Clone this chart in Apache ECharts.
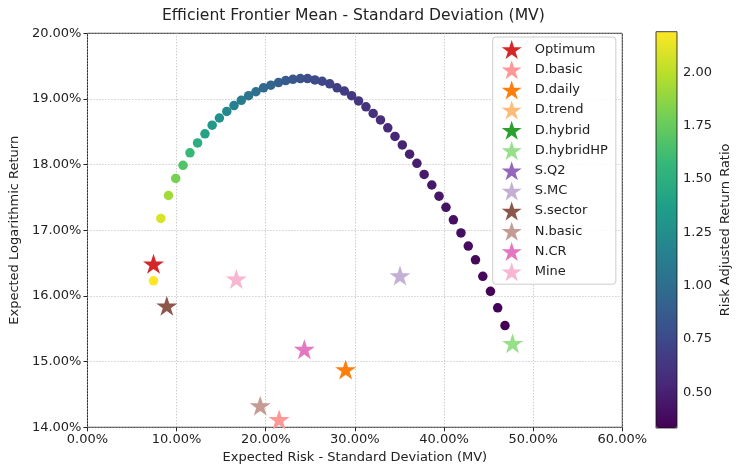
<!DOCTYPE html>
<html>
<head>
<meta charset="utf-8">
<script src="https://cdn.jsdelivr.net/npm/echarts@6/dist/echarts.min.js"></script>
<style>
html,body{margin:0;padding:0;background:#fff;}
#chart{width:743px;height:475px;}
</style>
</head>
<body>
<div id="chart"></div>
<script>
// Efficient frontier points (percent)
const frontierRisk = [7.41, 8.23, 9.09, 9.90, 10.72, 11.50, 12.35, 13.18, 13.99, 14.80,
  15.63, 16.44, 17.26, 18.08, 18.90, 19.75, 20.57, 21.43, 22.24, 23.05,
  23.88, 24.69, 25.51, 26.33, 27.18, 28.00, 28.82, 29.63, 30.41, 31.24,
  32.05, 32.87, 33.69, 34.50, 35.32, 36.14, 36.96, 37.77, 38.63, 39.44,
  40.22, 41.05, 41.90, 42.72, 43.53, 44.35, 45.21, 46.02, 46.84];
const frontierReturn = [16.23, 17.18, 17.53, 17.79, 17.99, 18.18, 18.33, 18.47, 18.60, 18.71,
  18.81, 18.90, 18.98, 19.05, 19.11, 19.17, 19.21, 19.25, 19.28, 19.30,
  19.31, 19.31, 19.29, 19.27, 19.23, 19.17, 19.12, 19.05, 18.97, 18.88,
  18.78, 18.68, 18.56, 18.43, 18.30, 18.16, 18.02, 17.85, 17.69, 17.52,
  17.35, 17.16, 16.96, 16.76, 16.55, 16.30, 16.07, 15.82, 15.55];

// Portfolios (stars)
const portfolioNames = ['Optimum','D.basic','D.daily','D.trend','D.hybrid','D.hybridHP','S.Q2','S.MC','S.sector','N.basic','N.CR','Mine'];
const portfolioRisk = [7.41, 21.50, 28.96, null, null, 47.69, null, 35.06, 8.90, 19.38, 24.33, 16.70];
const portfolioReturn = [16.49, 14.12, 14.88, null, null, 15.28, null, 16.31, 15.85, 14.33, 15.19, 16.26];
const portfolioColors = ['#d62728','#ff9896','#ff7f0e','#ffbb78','#2ca02c','#98df8a','#9467bd','#c5b0d5','#8c564b','#c49c94','#e377c2','#f7b6d2'];

// Axis ticks
const xTicks = [0, 10, 20, 30, 40, 50, 60];
const yTicks = [14, 15, 16, 17, 18, 19, 20];
const cbarTicks = [0.5, 0.75, 1.0, 1.25, 1.5, 1.75, 2.0];

const viridis = ['#440154','#482878','#3e4989','#31688e','#26828e','#1f9e89','#35b779','#6ece58','#b5de2b','#fde725'];
const STAR = 'path://M100,0 L122.45,69.1 L195.1,69.1 L136.3,111.8 L158.8,180.9 L100,138.2 L41.2,180.9 L63.7,111.8 L4.9,69.1 L77.55,69.1 Z';

const frontierData = frontierRisk.map((x, i) => [x, frontierReturn[i], frontierReturn[i] / x]);
const ratios = frontierData.map(d => d[2]);
const vmin = Math.min(...ratios), vmax = Math.max(...ratios);

const FONT = 'DejaVu Sans';
const chart = echarts.init(document.getElementById('chart'), null, {renderer: 'canvas'});

const starSeries = portfolioNames.map((name, i) => ({
  name: name,
  type: 'scatter',
  xAxisIndex: 0, yAxisIndex: 0,
  symbol: STAR,
  symbolSize: 21,
  symbolKeepAspect: true,
  clip: false,
  z: 5,
  itemStyle: {color: portfolioColors[i], opacity: 1},
  data: portfolioRisk[i] == null ? [] : [[portfolioRisk[i], portfolioReturn[i]]]
}));

const option = {
  animation: false,
  backgroundColor: '#fff',
  textStyle: {fontFamily: FONT},
  title: {
    text: 'Efficient Frontier Mean - Standard Deviation (MV)',
    left: 353.4, top: 8, padding: 0, textAlign: 'center',
    textStyle: {fontFamily: FONT, fontSize: 15.6, fontWeight: 'normal', color: '#222'}
  },
  grid: [
    {left: 84.5, top: 33.3, width: 537.8, height: 394, show: true, borderColor: '#222', borderWidth: 1, backgroundColor: 'transparent'},
    {left: 656, top: 31.7, width: 21, height: 396.3, show: true, borderColor: '#111', borderWidth: 0.8, backgroundColor: 'transparent', z: 10}
  ],
  xAxis: [
    {
      gridIndex: 0, type: 'value', min: xTicks[0], max: xTicks[xTicks.length - 1], interval: 10,
      name: 'Expected Risk - Standard Deviation (MV)', nameLocation: 'middle', nameGap: 24,
      nameTextStyle: {fontFamily: FONT, fontSize: 13, color: '#222'},
      axisLine: {show: false},
      axisTick: {show: true, inside: false, length: 4, lineStyle: {color: '#222'}},
      axisLabel: {margin: 6, fontFamily: FONT, fontSize: 13, color: '#222', formatter: v => v.toFixed(2) + '%'},
      splitLine: {show: true, lineStyle: {type: [1, 2], color: '#b0b0b0', width: 0.9}}
    },
    {gridIndex: 1, type: 'value', show: false, min: 0, max: 1}
  ],
  yAxis: [
    {
      gridIndex: 0, type: 'value', min: yTicks[0], max: yTicks[yTicks.length - 1], interval: 1,
      name: 'Expected Logarithmic Return', nameLocation: 'middle', nameGap: 63,
      nameTextStyle: {fontFamily: FONT, fontSize: 13, color: '#222'},
      axisLine: {show: false},
      axisTick: {show: true, inside: false, length: 4, lineStyle: {color: '#222'}},
      axisLabel: {margin: 6, fontFamily: FONT, fontSize: 13, color: '#222', formatter: v => v.toFixed(2) + '%'},
      splitLine: {show: true, lineStyle: {type: [1, 2], color: '#b0b0b0', width: 0.9}}
    },
    {
      gridIndex: 1, type: 'value', position: 'right', min: vmin, max: vmax,
      name: 'Risk Adjusted Return Ratio', nameLocation: 'middle', nameGap: 42, nameRotate: 90,
      nameTextStyle: {fontFamily: FONT, fontSize: 13, color: '#222'},
      axisLine: {show: false},
      axisTick: {show: true, inside: false, length: 4, customValues: cbarTicks, lineStyle: {color: '#222'}},
      axisLabel: {margin: 6, fontFamily: FONT, fontSize: 13, color: '#222', customValues: cbarTicks, formatter: v => v.toFixed(2)},
      splitLine: {show: false}
    }
  ],
  visualMap: {
    type: 'continuous',
    seriesIndex: 0,
    dimension: 2,
    min: vmin, max: vmax,
    calculable: false,
    realtime: false,
    orient: 'vertical',
    left: 656, top: 31.7,
    itemWidth: 21, itemHeight: 396.3,
    padding: 0,
    text: null,
    showLabel: false,
    inRange: {color: viridis}
  },
  legend: {
    data: portfolioNames,
    orient: 'vertical',
    left: 492.7, top: 37,
    padding: [3, 8, 3, 9],
    itemWidth: 20, itemHeight: 19, itemGap: 1.2,
    backgroundColor: 'rgba(255,255,255,0.85)',
    borderColor: '#cccccc', borderWidth: 1, borderRadius: 3,
    textStyle: {fontFamily: FONT, fontSize: 13, color: '#222', padding: [0, 0, 0, 8]},
    selectedMode: false
  },
  series: [
    {
      name: 'Frontier',
      type: 'scatter',
      xAxisIndex: 0, yAxisIndex: 0,
      symbol: 'circle',
      symbolSize: 9.5,
      z: 3,
      itemStyle: {opacity: 1},
      data: frontierData
    }
  ].concat(starSeries)
};
chart.setOption(option);
</script>
</body>
</html>
